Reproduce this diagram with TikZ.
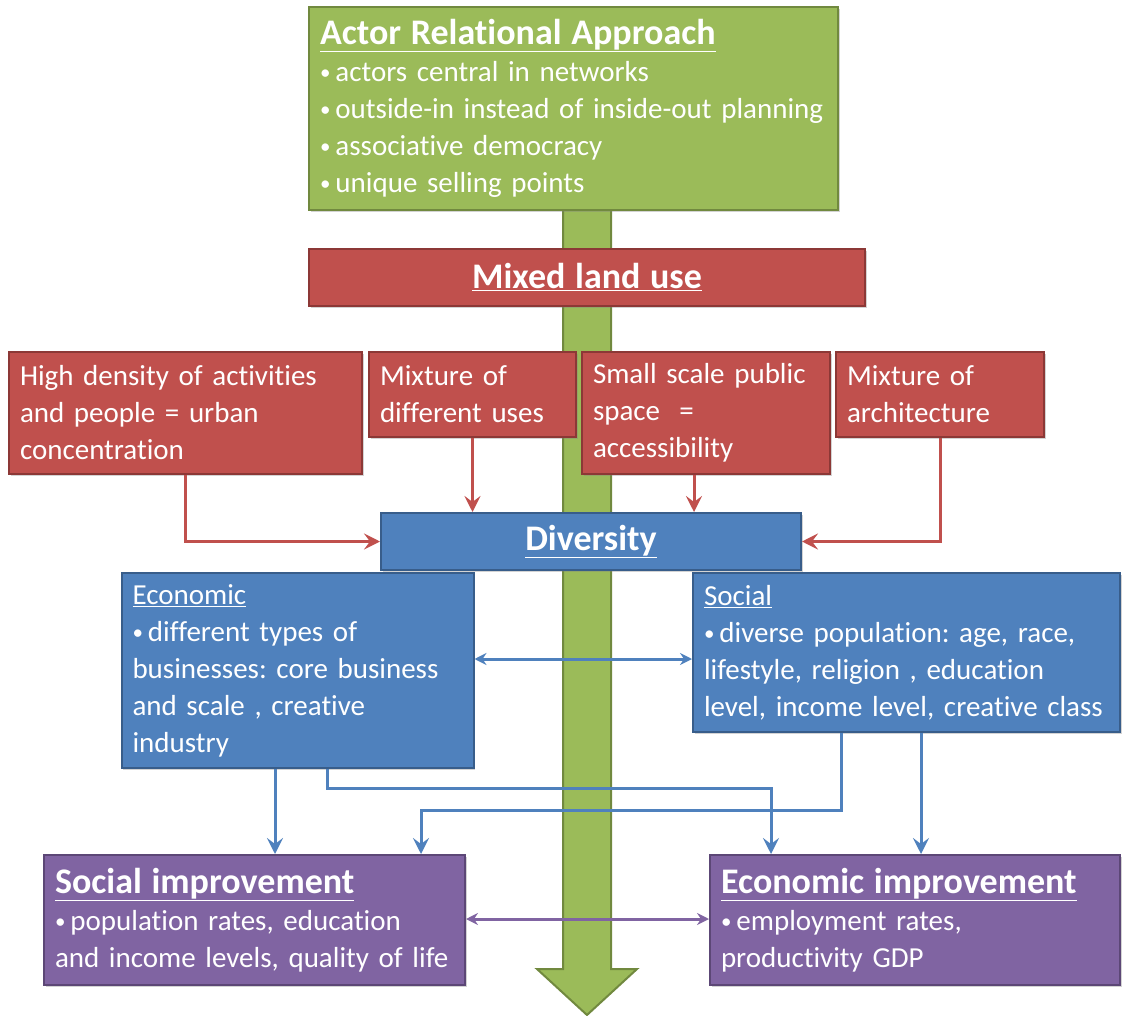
\documentclass[tikz,border=0pt]{standalone}
\usepackage{fontspec}
\setmainfont{Carlito}[Ligatures=NoCommon]
\usepackage{tikz}
\usetikzlibrary{arrows.meta,positioning,shadows}
\frenchspacing
\definecolor{argreen}{RGB}{155,187,89}
\definecolor{argreendark}{RGB}{113,137,63}
\definecolor{arred}{RGB}{192,80,77}
\definecolor{arreddark}{RGB}{140,56,54}
\definecolor{arblue}{RGB}{79,129,189}
\definecolor{arbluedark}{RGB}{56,93,138}
\definecolor{arpurple}{RGB}{128,100,162}
\definecolor{arpurpledark}{RGB}{92,71,118}
\tikzstyle{block} = [rectangle, line width=2pt, text=white, inner xsep=11pt, inner ysep=2pt, align=left, font=\fontsize{29}{37}\selectfont, drop shadow={shadow xshift=1.5pt, shadow yshift=-2pt, opacity=0.35}]
\tikzstyle{approach} = [block, draw=argreendark, fill=argreen]
\tikzstyle{landuse} = [block, draw=arreddark, fill=arred]
\tikzstyle{diversity} = [block, draw=arbluedark, fill=arblue]
\tikzstyle{improvement} = [block, draw=arpurpledark, fill=arpurple]
\tikzstyle{redarrow} = [line width=3pt, color=arred, -{Stealth[length=16pt,width=16pt,inset=6pt]}]
\tikzstyle{bluearrow} = [line width=3pt, color=arblue, -{Stealth[length=16pt,width=16pt,inset=6pt]}]
\tikzstyle{bluelink} = [line width=3pt, color=arblue, {Stealth[length=12pt,width=12pt,inset=4pt]}-{Stealth[length=12pt,width=12pt,inset=4pt]}]
\tikzstyle{purplelink} = [line width=3pt, color=arpurple, {Stealth[length=12pt,width=12pt,inset=4pt]}-{Stealth[length=12pt,width=12pt,inset=4pt]}]
\newcommand{\heading}[1]{{\bfseries\fontsize{36}{40}\selectfont\underline{#1}}}
\newcommand{\bul}{{\fontsize{21}{21}\selectfont\raisebox{2pt}{\textbullet}}\hspace{5pt}}

\begin{document}
\begin{tikzpicture}[x=1pt, y=-1pt]
\useasboundingbox (0,0) rectangle (1122,1016);

% Big arrow behind everything
\draw[fill=argreen, draw=argreendark, line width=2pt] (563,200) -- (611,200) -- (611,969) -- (637,969) -- (587,1015) -- (537,969) -- (563,969) -- cycle;

% Approach and land use
\node (ara) [approach, minimum width=529pt, minimum height=203pt, text width=507pt] at (573.5,108.5) {\heading{Actor Relational Approach}\\
  \bul actors central in networks\\
  \bul outside-in instead of inside-out planning\\
  \bul associative democracy\\
  \bul unique selling points};
\node (mlu) [landuse, minimum width=556pt, minimum height=57pt, text width=534pt, align=center] at (587,277.5) {\heading{Mixed land use}};

% Aspects of mixed land use
\node (dens) [landuse, minimum width=353pt, minimum height=122pt, text width=331pt] at (185.5,413) {High density of activities\\ and people = urban\\ concentration};
\node (mix) [landuse, minimum width=207pt, minimum height=85pt, text width=185pt] at (472.5,394.5) {Mixture of\\ different uses};
\node (space) [landuse, minimum width=248pt, minimum height=122pt, text width=226pt] at (706,413) {Small scale public\\ space \ =\\ accessibility};
\node (arch) [landuse, minimum width=208pt, minimum height=85pt, text width=186pt] at (940,394.5) {Mixture of\\ architecture};

% Diversity
\node (div) [diversity, minimum width=420pt, minimum height=57pt, text width=398pt, align=center] at (591,541.5) {\heading{Diversity}};
\node (econ) [diversity, minimum width=352pt, minimum height=195pt, text width=330pt] at (297.5,670.5) {\underline{Economic}\\
  \bul different types of\\ businesses: core business\\ and scale , creative\\ industry};
\node (soc) [diversity, minimum width=427pt, minimum height=159pt, text width=405pt] at (906.5,652.5) {\underline{Social}\\
  \bul diverse population: age, race,\\ lifestyle, religion , education\\ level, income level, creative class};

% Improvements
\node (socimp) [improvement, minimum width=421pt, minimum height=130pt, text width=399pt] at (254.5,920) {\heading{Social improvement}\\
  \bul population rates, education\\ and income levels, quality of life};
\node (econimp) [improvement, minimum width=410pt, minimum height=130pt, text width=388pt] at (915,920) {\heading{Economic improvement}\\
  \bul employment rates,\\ productivity GDP};

% Arrows into diversity
\draw[redarrow] (dens.south) |- (div.west);
\draw[redarrow] (mix.south) -- (mix.south |- div.north);
\draw[redarrow] ([xshift=-12pt]space.south) -- ([xshift=-12pt]space.south |- div.north);
\draw[redarrow] (arch.south) |- (div.east);

% Blue flows
\coordinate (econsoc) at (0,659);
\coordinate (x275) at (275,0);
\coordinate (x327) at (327,0);
\coordinate (x841) at (841,0);
\coordinate (x921) at (921,0);
\coordinate (bendecon) at (771,788);
\coordinate (bendsoc) at (421,810);
\draw[bluelink] (econ.east |- econsoc) -- (soc.west |- econsoc);
\draw[bluearrow] (econ.south -| x275) -- (socimp.north -| x275);
\draw[bluearrow] (econ.south -| x327) |- (bendecon) -- (econimp.north -| bendecon);
\draw[bluearrow] (soc.south -| x841) |- (bendsoc) -- (socimp.north -| bendsoc);
\draw[bluearrow] (soc.south -| x921) -- (econimp.north -| x921);

% Improvements linked
\coordinate (impmid) at (0,919);
\draw[purplelink] (socimp.east |- impmid) -- (econimp.west |- impmid);
\end{tikzpicture}
\end{document}
